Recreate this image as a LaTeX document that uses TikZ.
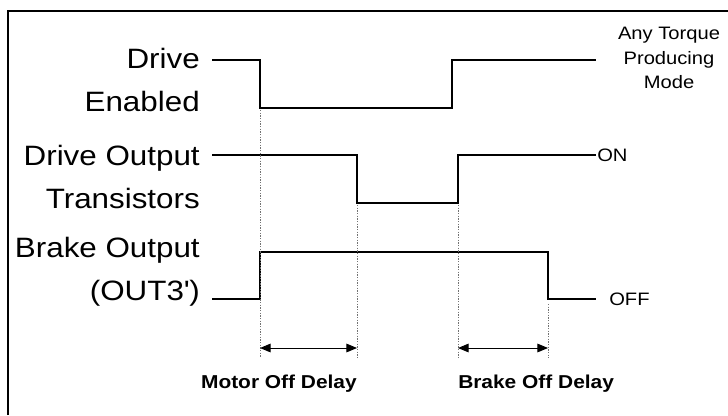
\documentclass[tikz,border=0pt]{standalone}
\usepackage{fontspec}
\setmainfont{Liberation Sans}[FakeStretch=1.12]
\usetikzlibrary{arrows.meta,positioning,calc}

\begin{document}
\begin{tikzpicture}[x=0.75pt, y=-0.75pt,
    sig/.style   = {line width=1.5pt, line join=miter},
    guide/.style = {dash pattern=on 1pt off 1pt, line width=0.4pt, draw=black!55},
    dly/.style   = {{Triangle[length=8pt,width=6.5pt]}-{Triangle[length=8pt,width=6.5pt]},
                    line width=0.75pt},
    lbl/.style   = {anchor=east, align=right, inner sep=0pt,
                    font=\fontsize{21}{32}\selectfont},
    tag/.style   = {inner sep=0pt, font=\fontsize{13.5}{18.5}\selectfont},
    dlbl/.style  = {inner sep=0pt, font=\fontsize{14}{16}\selectfont\bfseries}
  ]
    \useasboundingbox (0,0) rectangle (728,415);
    \draw[line width=1.5pt] (8,415) -- (8,11) -- (728,11);

    \node[lbl] (enlbl)  at (200,80)  {Drive\\Enabled};
    \node[lbl] (outlbl) at (200,177) {Drive Output\\Transistors};
    \node[lbl] (brklbl) at (200,272) {Brake Output\\(OUT3\textquotesingle)};

    \coordinate (a1) at (260,348);
    \coordinate (a2) at (357,348);
    \coordinate (b1) at (458,348);
    \coordinate (b2) at (548,348);

    \draw[sig] (212,60) -- (260,60) -- (260,108) -- (452,108) -- (452,60) -- (596,60);
    \draw[sig] (212,155) -- (357,155) -- (357,203) -- (458,203) -- (458,155) -- (596,155);
    \draw[sig] (212,299) -- (260,299) -- (260,252) -- (548,252) -- (548,299) -- (596,299);

    \node[tag, align=center] (mode) at (669,58) {Any Torque\\Producing\\Mode};
    \node[tag, anchor=west]  (on)   at (597,155) {ON};
    \node[tag, anchor=west]  (off)  at (609,299) {OFF};

    \draw[guide] (260,110) -- ($(a1)+(0,10)$);
    \draw[guide] (357,205) -- ($(a2)+(0,10)$);
    \draw[guide] (458,205) -- ($(b1)+(0,10)$);
    \draw[guide] (548,304) -- ($(b2)+(0,10)$);

    \draw[dly] (a1) -- (a2);
    \draw[dly] (b1) -- (b2);

    \node[dlbl, anchor=east] (mdly) at (357,384) {Motor Off Delay};
    \node[dlbl, anchor=west] (bdly) at (458,384) {Brake Off Delay};
  \end{tikzpicture}
\end{document}
